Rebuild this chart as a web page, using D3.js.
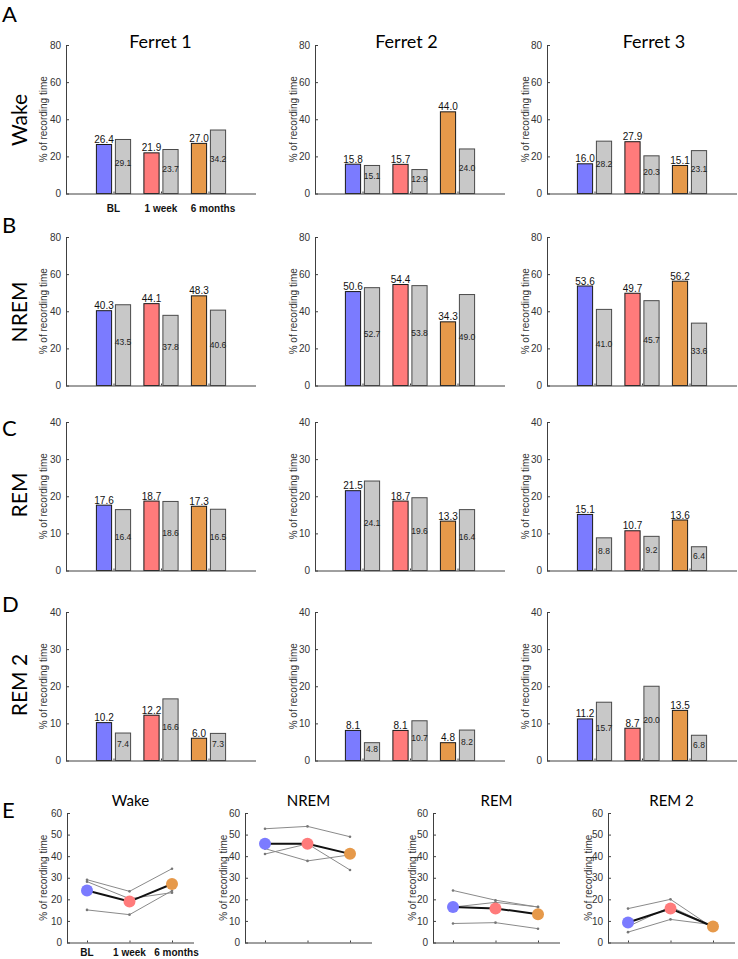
<!DOCTYPE html>
<html>
<head>
<meta charset="utf-8">
<script src="https://cdn.jsdelivr.net/npm/d3@7"></script>
<style>
html,body{margin:0;padding:0;background:#fff;}
svg{display:block;}
</style>
</head>
<body>
<svg id="chart" width="738" height="959"></svg>
<script>
// ---------------- DATA ----------------
const ferrets = ["Ferret 1", "Ferret 2", "Ferret 3"];
const timepoints = ["BL", "1 week", "6 months"];
const states = ["Wake", "NREM", "REM", "REM 2"];
const panelLetters = ["A", "B", "C", "D", "E"];

// coloured bars (per ferret: BL, 1 week, 6 months)
const wakeColored = [[26.4, 21.9, 27.0], [15.8, 15.7, 44.0], [16.0, 27.9, 15.1]];
const nremColored = [[40.3, 44.1, 48.3], [50.6, 54.4, 34.3], [53.6, 49.7, 56.2]];
const remColored  = [[17.6, 18.7, 17.3], [21.5, 18.7, 13.3], [15.1, 10.7, 13.6]];
const rem2Colored = [[10.2, 12.2, 6.0], [8.1, 8.1, 4.8], [11.2, 8.7, 13.5]];

// grey bars (per ferret: BL, 1 week, 6 months)
const wakeGray = [[29.1, 23.7, 34.2], [15.1, 12.9, 24.0], [28.2, 20.3, 23.1]];
const nremGray = [[43.5, 37.8, 40.6], [52.7, 53.8, 49.0], [41.0, 45.7, 33.6]];
const remGray  = [[16.4, 18.6, 16.5], [24.1, 19.6, 16.4], [8.8, 9.2, 6.4]];
const rem2Gray = [[7.4, 16.6, 7.3], [4.8, 10.7, 8.2], [15.7, 20.0, 6.8]];

const barYMax = [80, 80, 40, 40];
const barYTicks = [[0, 20, 40, 60, 80], [0, 20, 40, 60, 80], [0, 10, 20, 30, 40], [0, 10, 20, 30, 40]];
const lineYMax = 60;
const lineYTicks = [0, 10, 20, 30, 40, 50, 60];
const yAxisLabel = "% of recording time";

const timeColors = ["#7B7BFF", "#FF7B7B", "#E6994A"];
const grayFill = "#C8C8C8";

const coloredByState = [wakeColored, nremColored, remColored, rem2Colored];
const grayByState = [wakeGray, nremGray, remGray, rem2Gray];

// ---------------- LAYOUT ----------------
const svg = d3.select("#chart");
const titleFont = "Lato, 'Open Sans', sans-serif";
const axFont = "'Liberation Sans', Arial, sans-serif";
const axColor = "#404040";
const labelDx = [0, 0, 4.5];

const barPanelLeft = [66, 315, 547];
const barPanelWidth = 190;
const barRowTop = [45, 237, 422, 612];
const barRowHeight = 148.5;
const ferretTitleX = [160.5, 406.5, 654];
const yLabelX = [43, 293, 525];
const rowLabelY = [120, 312, 495, 685];
const letterY = [22, 233, 436, 612, 818];

// panel letters
panelLetters.forEach((L, i) => {
  svg.append("text").attr("x", 2).attr("y", letterY[i])
    .attr("font-family", titleFont).attr("font-size", 22).attr("fill", "#000").text(L);
});

// row labels
states.forEach((s, i) => {
  svg.append("text")
    .attr("transform", `translate(27,${rowLabelY[i]}) rotate(-90)`)
    .attr("text-anchor", "middle")
    .attr("font-family", titleFont).attr("font-size", 21).attr("fill", "#000").text(s);
});

// ferret titles
ferrets.forEach((f, i) => {
  svg.append("text").attr("x", ferretTitleX[i]).attr("y", 48).attr("text-anchor", "middle")
    .attr("font-family", titleFont).attr("font-size", 18).attr("fill", "#000").text(f);
});

function styleAxis(g) {
  g.selectAll("path.domain").attr("stroke", axColor).attr("stroke-width", 1);
  g.selectAll(".tick line").attr("stroke", axColor);
  g.selectAll(".tick text").attr("fill", "#333").attr("font-family", axFont).attr("font-size", 10);
}

// ---------------- BAR PANELS ----------------
states.forEach((state, r) => {
  const y = d3.scaleLinear().domain([0, barYMax[r]])
    .range([barRowTop[r] + barRowHeight, barRowTop[r]]);
  ferrets.forEach((fer, c) => {
    const left = barPanelLeft[c];
    const x = d3.scaleLinear().domain([0, 4]).range([left, left + barPanelWidth]);
    const g = svg.append("g");
    const unit = x(1) - x(0);
    const bw = 0.32 * unit;
    const off = 0.2 * unit;

    const col = coloredByState[r][c];
    const gry = grayByState[r][c];

    timepoints.forEach((t, k) => {
      const cx = x(k + 1);
      g.append("rect")
        .attr("x", cx - off - bw / 2).attr("y", y(col[k]))
        .attr("width", bw).attr("height", y(0) - y(col[k]))
        .attr("fill", timeColors[k]).attr("stroke", "#1a1a1a").attr("stroke-width", 1);
      g.append("rect")
        .attr("x", cx + off - bw / 2).attr("y", y(gry[k]))
        .attr("width", bw).attr("height", y(0) - y(gry[k]))
        .attr("fill", grayFill).attr("stroke", "#4a4a4a").attr("stroke-width", 1);
      g.append("text").attr("x", cx - off).attr("y", y(col[k]) - 1.5)
        .attr("text-anchor", "middle").attr("font-family", axFont).attr("font-size", 10)
        .attr("fill", "#111").text(col[k].toFixed(1));
      g.append("text").attr("x", cx + off).attr("y", y(gry[k] / 2) - 3)
        .attr("text-anchor", "middle").attr("dominant-baseline", "central")
        .attr("font-family", axFont).attr("font-size", 8.5)
        .attr("fill", "#222").text(gry[k].toFixed(1));
    });

    const ya = g.append("g").attr("transform", `translate(${left},0)`)
      .call(d3.axisLeft(y).tickValues(barYTicks[r]).tickSize(-3).tickPadding(5).tickSizeOuter(0));
    styleAxis(ya);
    const xa = g.append("g").attr("transform", `translate(0,${y(0)})`)
      .call(d3.axisBottom(x).tickValues([1, 2, 3]).tickSize(-2).tickSizeOuter(0).tickFormat(""));
    styleAxis(xa);
    xa.selectAll("path.domain").attr("d", `M${left},0.5H${left + barPanelWidth}`);

    if (r === 0 && c === 0) {
      timepoints.forEach((t, k) => {
        g.append("text").attr("x", x(k + 1) + labelDx[k]).attr("y", 212).attr("text-anchor", "middle")
          .attr("font-family", axFont).attr("font-size", 10).attr("font-weight", "bold")
          .attr("fill", "#111").text(t);
      });
    }

    g.append("text")
      .attr("transform", `translate(${yLabelX[c]},${(y(0) + y(barYMax[r])) / 2}) rotate(-90)`)
      .attr("text-anchor", "middle").attr("dominant-baseline", "central")
      .attr("font-family", axFont).attr("font-size", 10).attr("fill", "#333").text(yAxisLabel);
  });
});

// ---------------- LINE PANELS (E) ----------------
const linePanelLeft = [67, 245, 433, 608];
const linePanelWidth = 127;
const lineTop = 813, lineBottom = 942.5;
const lineYLabelX = [43, 223, 412, 588];

states.forEach((state, p) => {
  const left = linePanelLeft[p];
  const x = d3.scalePoint().domain(timepoints).range([left + 20, left + linePanelWidth - 22]);
  const y = d3.scaleLinear().domain([0, lineYMax]).range([lineBottom, lineTop]);
  const g = svg.append("g");

  const grays = grayByState[p];
  const means = timepoints.map((t, k) => d3.mean(grays, d => d[k]));
  const line = d3.line().x((d, k) => x(timepoints[k])).y(d => y(d));

  grays.forEach(series => {
    g.append("path").attr("d", line(series)).attr("fill", "none")
      .attr("stroke", "#8a8a8a").attr("stroke-width", 1);
    series.forEach((v, k) => {
      g.append("circle").attr("cx", x(timepoints[k])).attr("cy", y(v)).attr("r", 1.3).attr("fill", "#777");
    });
  });
  g.append("path").attr("d", line(means)).attr("fill", "none")
    .attr("stroke", "#111").attr("stroke-width", 2);
  means.forEach((v, k) => {
    g.append("circle").attr("cx", x(timepoints[k])).attr("cy", y(v)).attr("r", 6).attr("fill", timeColors[k]);
  });

  const ya = g.append("g").attr("transform", `translate(${left},0)`)
    .call(d3.axisLeft(y).tickValues(lineYTicks).tickSize(-3).tickPadding(5).tickSizeOuter(0));
  styleAxis(ya);
  const xa = g.append("g").attr("transform", `translate(0,${lineBottom})`)
    .call(d3.axisBottom(x).tickSize(-2).tickSizeOuter(0).tickFormat(""));
  styleAxis(xa);
  xa.selectAll("path.domain").attr("d", `M${left},0.5H${left + linePanelWidth}`);

  g.append("text").attr("x", left + linePanelWidth / 2).attr("y", 806).attr("text-anchor", "middle")
    .attr("font-family", titleFont).attr("font-size", 15).attr("fill", "#000").text(state);

  g.append("text")
    .attr("transform", `translate(${lineYLabelX[p]},${(lineTop + lineBottom) / 2}) rotate(-90)`)
    .attr("text-anchor", "middle").attr("dominant-baseline", "central")
    .attr("font-family", axFont).attr("font-size", 10).attr("fill", "#333").text(yAxisLabel);

  if (p === 0) {
    timepoints.forEach((t, k) => {
      g.append("text").attr("x", x(t) + labelDx[k]).attr("y", 956).attr("text-anchor", "middle")
        .attr("font-family", axFont).attr("font-size", 10).attr("font-weight", "bold")
        .attr("fill", "#111").text(t);
    });
  }
});
</script>
</body>
</html>
